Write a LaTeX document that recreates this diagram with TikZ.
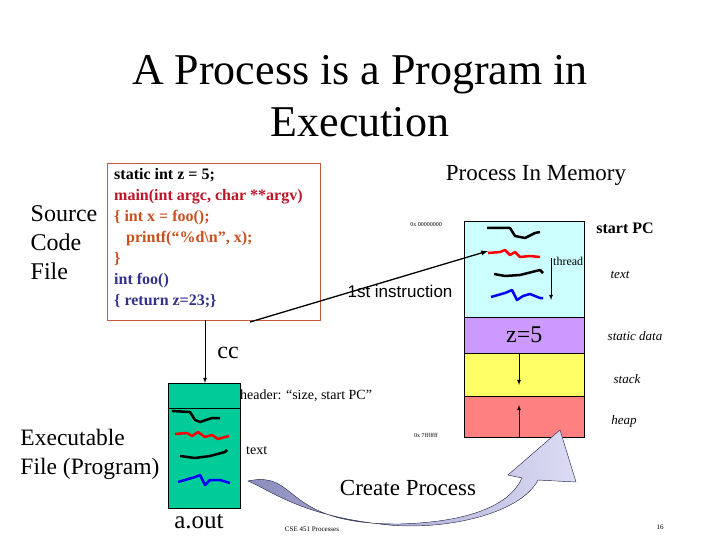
\documentclass[tikz,border=0pt]{standalone}
\usepackage{fontspec}
\setmainfont{Liberation Serif}
\setsansfont{Liberation Sans}
\begin{document}
\begin{tikzpicture}[x=1pt,y=-1pt,
  lbl/.style={inner sep=0,font=\fontsize{15}{17}\selectfont},
  seg/.style={draw=black,minimum width=120,anchor=north west,inner sep=0},
  wig/.style={line width=2.5pt,line join=round},
  ital/.style={inner sep=0,font=\itshape\fontsize{13}{15}\selectfont}]
\definecolor{cred}{RGB}{190,20,40}
\definecolor{corg}{RGB}{200,80,30}
\definecolor{cblu}{RGB}{50,50,140}
\useasboundingbox (0,0) rectangle (720,540);
\node[inner sep=0,align=center,font=\fontsize{44}{52}\selectfont] (title) at (360,96) {A Process is a Program in\\Execution};
\node[inner sep=0,align=left,font=\fontsize{24}{29}\selectfont] (src) at (64,243) {Source\\Code\\File};
\node[draw={rgb,255:red,200;green,90;blue,60},anchor=north west,minimum width=213,minimum height=157,inner sep=0] (code) at (107,163) {};
\node[anchor=north west,inner sep=0,align=left,font=\bfseries\fontsize{16}{21}\selectfont] (codet) at (114,168)
 {static int z = 5;\\ \textcolor{cred}{main(int argc, char **argv)}\\ \textcolor{corg}{\{ int x = foo();}\\ \textcolor{corg}{\ \ \ printf(“\%d\textbackslash n”, x);}\\ \textcolor{corg}{\}}\\ \textcolor{cblu}{int foo()}\\ \textcolor{cblu}{\{ return z=23;\}}};
\node[lbl,font=\fontsize{23}{24}\selectfont] (pim) at (536,175) {Process In Memory};
% memory
\node[seg,fill={rgb,255:red,204;green,255;blue,255},minimum height=96] (txt) at (464,221) {};
\node[seg,fill={rgb,255:red,204;green,153;blue,255},minimum height=36,font=\fontsize{24}{24}\selectfont] (sd) at (464,317) {z=5};
\node[seg,fill={rgb,255:red,255;green,255;blue,102},minimum height=43] (stk) at (464,353) {};
\node[seg,fill={rgb,255:red,255;green,128;blue,128},minimum height=41] (hp) at (464,396) {};
\draw[wig] (487,228)--(510,228)--(515,236)--(525,238)--(535,233)--(540,232);
\draw[wig,red] (488,253)--(500,252)--(505,250)--(510,255)--(515,252)--(520,257)--(530,256)--(540,257);
\draw[wig] (494,274)--(505,276)--(520,275)--(540,270)--(543,273);
\draw[wig,blue] (491,297)--(505,293)--(512,290)--(517,300)--(523,296)--(530,294)--(540,298)--(543,298);
\coordinate (t1) at (551,258); \coordinate (t2) at (551,300);
\draw[-latex,thick] (t1)--(t2);
\node[anchor=north west,inner sep=0,font=\fontsize{12}{12}\selectfont] (thr) at (553,257) {thread};
\coordinate (s1) at (519,353); \coordinate (s2) at (519,385);
\draw[-latex,thick] (s1)--(s2);
\coordinate (h1) at (519,437); \coordinate (h2) at (519,405);
\draw[-latex,thick] (h1)--(h2);
\node[lbl,font=\bfseries\fontsize{16}{17}\selectfont] (spc) at (625,228) {start PC};
\node[ital] (lt) at (620,275) {text};
\node[ital] (lsd) at (635,336) {static data};
\node[ital] (lst) at (627,379) {stack};
\node[ital] (lhp) at (624,421) {heap};
\node[inner sep=0,font=\fontsize{6}{6}\selectfont] (a0) at (426,225) {0x 00000000};
\node[inner sep=0,font=\fontsize{6}{6}\selectfont] (a1) at (426,435) {0x 7fffffff};
\node[lbl,font=\sffamily\fontsize{17}{17}\selectfont] (first) at (400,291) {1st instruction};
\coordinate (fi) at (488,251);
\draw[-latex,line width=1.3pt] (250,322)--(fi);
% executable
\node[lbl,font=\fontsize{24}{24}\selectfont] (cc) at (228,353) {cc};
\node[draw,fill={rgb,255:red,0;green,204;blue,153},anchor=north west,minimum width=72,minimum height=125,inner sep=0] (exe) at (168,383) {};
\draw (168,408)--(240,408);
\draw[-latex,thick] (205,320)--(exe.north -| 205,0);
\draw[wig] (172,411)--(190,412)--(195,420)--(200,422)--(212,418)--(220,418);
\draw[wig,red] (175,434)--(187,433)--(192,436)--(198,432)--(205,437)--(212,435)--(218,439)--(225,437)--(229,436);
\draw[wig] (180,456)--(195,458)--(210,456)--(225,452)--(227,450);
\draw[wig,blue] (178,482)--(195,477)--(200,475)--(205,485)--(210,480)--(220,480)--(230,483);
\node[anchor=west,inner sep=0,font=\fontsize{14}{14}\selectfont] (hdr) at (240,396) {header: “size, start PC”};
\node[anchor=west,inner sep=0,font=\fontsize{14}{14}\selectfont] (tx2) at (246,451) {text};
\node[inner sep=0,align=left,font=\fontsize{23.5}{29}\selectfont] (ef) at (90,454) {Executable\\File (Program)};
\node[lbl,font=\fontsize{25}{25}\selectfont] (aout) at (199,522) {a.out};
% create process arrow
\fill[left color={rgb,255:red,140;green,140;blue,190},right color={rgb,255:red,220;green,220;blue,245},draw={rgb,255:red,60;green,60;blue,100},line width=0.4pt]
 (248,481) .. controls (300,470) and (280,525) .. (400,524)
 .. controls (470,522) and (510,505) .. (522,478) -- (508,475) -- (560,430) -- (576,482) -- (538,480)
 .. controls (520,515) and (440,532) .. (380,524) .. controls (300,515) and (270,490) .. (248,481) -- cycle;
\node[lbl,font=\fontsize{23}{24}\selectfont] (cp) at (408,488) {Create Process};
\node[inner sep=0,font=\fontsize{7}{7}\selectfont] (foot) at (312,529) {CSE 451 Processes};
\node[inner sep=0,font=\fontsize{7}{7}\selectfont] (pg) at (660,527) {16};
\end{tikzpicture}
\end{document}
